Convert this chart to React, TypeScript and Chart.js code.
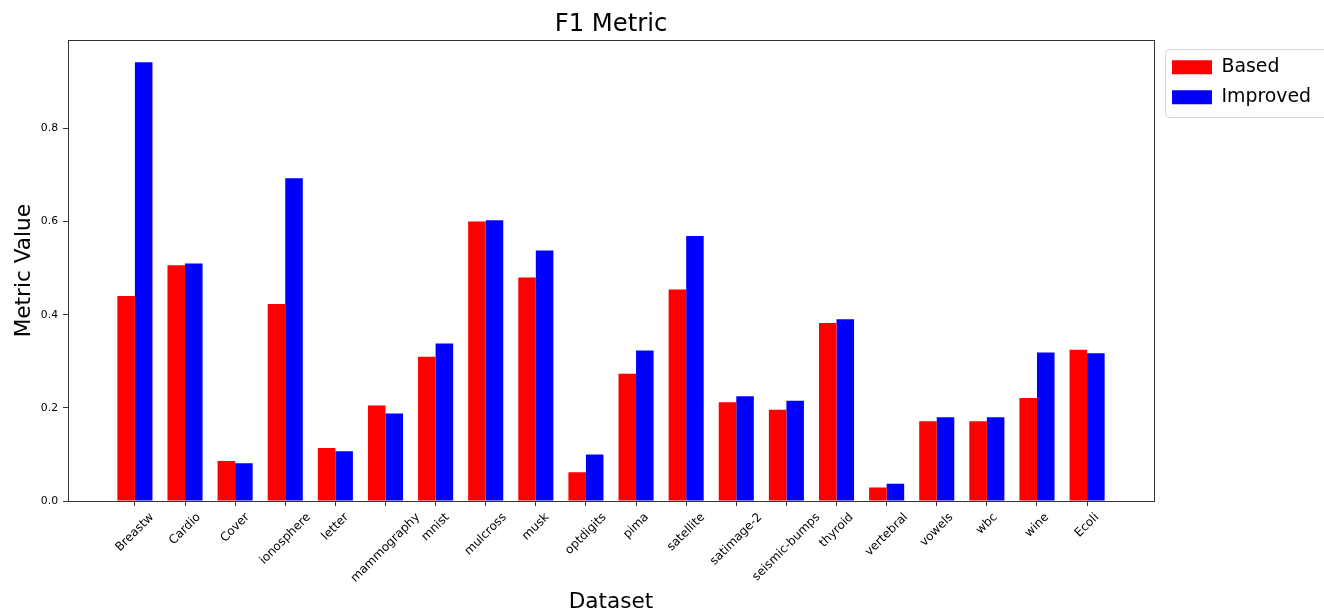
import React, { useEffect, useRef } from "react";
import { Chart, registerables } from "chart.js";

Chart.register(...registerables);

const categories = [
  "Breastw", "Cardio", "Cover", "ionosphere", "letter", "mammography", "mnist",
  "mulcross", "musk", "optdigits", "pima", "satellite", "satimage-2",
  "seismic-bumps", "thyroid", "vertebral", "vowels", "wbc", "wine", "Ecoli",
];
const basedValues = [
  0.440, 0.506, 0.086, 0.423, 0.114, 0.205, 0.310, 0.600, 0.480, 0.062,
  0.273, 0.454, 0.212, 0.196, 0.382, 0.029, 0.171, 0.171, 0.221, 0.325,
];
const improvedValues = [
  0.942, 0.510, 0.081, 0.693, 0.107, 0.188, 0.338, 0.603, 0.538, 0.100,
  0.323, 0.569, 0.225, 0.215, 0.390, 0.037, 0.180, 0.180, 0.319, 0.317,
];
const yTickValues = [0.0, 0.2, 0.4, 0.6, 0.8];
const seriesLabels = ["Based", "Improved"];

const FONT = "'DejaVu Sans', sans-serif";

const n = categories.length;
const xMargin = 0.05 * (n - 1 + 0.7);
const xMin = -0.35 - xMargin;
const xMax = n - 1 + 0.35 + xMargin;
const yMax = Math.max(...basedValues, ...improvedValues) * 1.05;

const framePlugin = {
  id: "frame",
  afterDatasetsDraw(chart: any) {
    const { left, top, right, bottom } = chart.chartArea;
    const ctx = chart.ctx;
    ctx.save();
    ctx.strokeStyle = "#333";
    ctx.lineWidth = 1;
    ctx.strokeRect(Math.round(left) + 0.5, Math.round(top) + 0.5, Math.round(right) - Math.round(left), Math.round(bottom) - Math.round(top));
    ctx.restore();
  },
};

const legendPlacePlugin = {
  id: "legendPlace",
  afterLayout(chart: any) {
    const lg = chart.legend;
    if (!lg) return;
    const w = lg.width;
    const h = lg.height;
    lg.left = chart.chartArea.right + 7;
    lg.top = chart.chartArea.top + 6.5;
    lg.right = lg.left + w;
    lg.bottom = lg.top + h;
  },
  beforeDraw(chart: any) {
    const lg = chart.legend;
    if (!lg) return;
    const ctx = chart.ctx;
    ctx.save();
    ctx.beginPath();
    const x = Math.round(lg.left + 4) + 0.5;
    const y = Math.round(lg.top + 2) + 0.5;
    if (ctx.roundRect) ctx.roundRect(x, y, 240, 68, 4);
    else ctx.rect(x, y, 240, 68);
    ctx.fillStyle = "rgba(255,255,255,0.8)";
    ctx.fill();
    ctx.strokeStyle = "#d6d6d6";
    ctx.lineWidth = 1;
    ctx.stroke();
    ctx.restore();
  },
};

const centerTicksPlugin = {
  id: "centerTicks",
  beforeDraw(chart: any) {
    const scale = chart.scales.x;
    if (!scale || !scale.getLabelItems) return;
    const items = scale.getLabelItems(chart.chartArea);
    const ctx = chart.ctx;
    items.forEach((item: any, i: number) => {
      if (item._centered) return;
      ctx.save();
      ctx.font = item.font.string;
      const L = ctx.measureText(String(item.label)).width;
      ctx.restore();
      const h = item.font.size * 1.164;
      const tickX = scale.getPixelForTick(i);
      item.options.textAlign = "center";
      item.options.textBaseline = "middle";
      item.textOffset = 0;
      item.options.translation = [tickX, scale.top + 9.4 + ((L + h) * Math.SQRT1_2) / 2];
      item._centered = true;
    });
  },
};

export default function App() {
  const ref = useRef<HTMLCanvasElement>(null);

  useEffect(() => {
    document.body.style.margin = "0";
    const canvas = ref.current;
    if (!canvas) return;
    Chart.defaults.font.family = FONT;
    Chart.defaults.color = "#000";

    const chart = new Chart(canvas, {
      type: "bar",
      data: {
        datasets: [
          {
            label: seriesLabels[0],
            data: basedValues.map((y, i) => ({ x: i, y })),
            backgroundColor: "#ff0000",
            borderWidth: 0,
            categoryPercentage: 0.7,
            barPercentage: 1.0,
          },
          {
            label: seriesLabels[1],
            data: improvedValues.map((y, i) => ({ x: i, y })),
            backgroundColor: "#0000ff",
            borderWidth: 0,
            categoryPercentage: 0.7,
            barPercentage: 1.0,
          },
        ],
      },
      options: {
        responsive: false,
        animation: false,
        devicePixelRatio: 1,
        events: [],
        layout: { padding: { left: 0, right: 170, top: 0, bottom: 0 } },
        plugins: {
          title: {
            display: true,
            text: "F1 Metric",
            fullSize: false,
            color: "#000",
            font: { size: 24.3, weight: "normal", family: FONT },
            padding: { top: 10.5, bottom: 0.7 },
          },
          legend: {
            position: "chartArea",
            align: "start",
            labels: {
              boxWidth: 40,
              boxHeight: 14,
              padding: 11,
              color: "#000",
              font: { size: 18.9, family: FONT },
            },
          },
          tooltip: { enabled: false },
        },
        scales: {
          x: {
            type: "linear",
            min: xMin,
            max: xMax,
            offset: false,
            grid: { display: true, offset: false, drawOnChartArea: false, drawTicks: true, tickLength: 5, color: "#333" },
            border: { display: false },
            ticks: {
              autoSkip: false,
              minRotation: 45,
              maxRotation: 45,
              color: "#000",
              font: { size: 12, family: FONT },
              callback: (v: any) => categories[v] ?? "",
            },
            afterBuildTicks: (s: any) => {
              s.ticks = categories.map((_, i) => ({ value: i }));
            },
            afterFit: (s: any) => {
              s.height = 108;
            },
            title: {
              display: true,
              text: "Dataset",
              color: "#000",
              font: { size: 21.6, family: FONT },
              padding: { top: 0, bottom: -6.5 },
            },
          },
          y: {
            type: "linear",
            min: 0,
            max: yMax,
            grid: { display: true, drawOnChartArea: false, drawTicks: true, tickLength: 5, color: "#333" },
            border: { display: false },
            ticks: {
              color: "#000",
              padding: 5,
              font: { size: 10.8, family: FONT },
              callback: (v: any) => Number(v).toFixed(1),
            },
            afterBuildTicks: (s: any) => {
              s.ticks = yTickValues.map((v) => ({ value: v }));
            },
            afterFit: (s: any) => {
              s.width = 68;
            },
            title: {
              display: true,
              text: "Metric Value",
              color: "#000",
              font: { size: 21.6, family: FONT },
              padding: { top: 11.4, bottom: 0 },
            },
          },
        },
      } as any,
      plugins: [framePlugin, legendPlacePlugin, centerTicksPlugin],
    });

    return () => chart.destroy();
  }, []);

  return (
    <div style={{ width: 1324, height: 609 }}>
      <canvas ref={ref} width={1324} height={609} style={{ display: "block", width: 1324, height: 609 }} />
    </div>
  );
}
